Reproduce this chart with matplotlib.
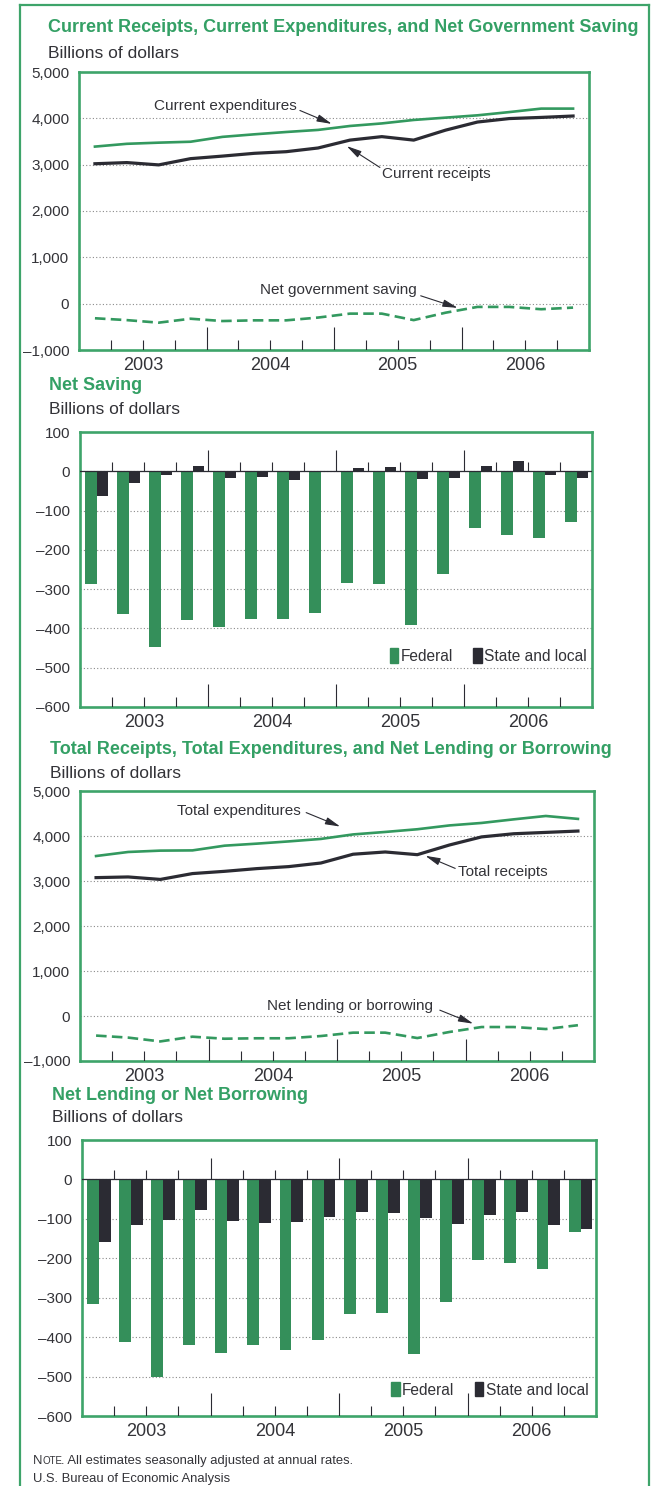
import matplotlib
matplotlib.use("Agg")
import matplotlib.pyplot as plt
from matplotlib.lines import Line2D
from matplotlib.patches import Patch
import numpy as np

# ---------------- data ----------------
years = ["2003", "2004", "2005", "2006"]
n_quarters = 16

current_expenditures = [3390, 3450, 3475, 3495, 3600, 3655, 3705, 3750,
                        3835, 3890, 3965, 4015, 4065, 4135, 4210, 4210]
current_receipts = [3020, 3045, 2995, 3130, 3185, 3245, 3280, 3360,
                    3530, 3605, 3530, 3745, 3920, 3995, 4020, 4050]
net_government_saving = [-315, -355, -410, -325, -375, -360, -360, -300,
                         -215, -215, -355, -195, -70, -70, -120, -85]

federal_saving = [-287, -363, -448, -378, -397, -377, -377, -361,
                  -284, -287, -392, -261, -145, -161, -171, -129]
state_local_saving = [-64, -30, -10, 13, -17, -14, -23, -3,
                      9, 11, -19, -17, 13, 26, -10, -17]

total_expenditures = [3555, 3645, 3675, 3680, 3785, 3830, 3880, 3935,
                      4035, 4090, 4150, 4235, 4290, 4370, 4445, 4380]
total_receipts = [3075, 3090, 3035, 3165, 3215, 3275, 3320, 3400,
                  3595, 3645, 3585, 3800, 3980, 4050, 4080, 4110]
net_lending = [-435, -480, -565, -460, -505, -495, -495, -445,
               -370, -370, -490, -355, -245, -245, -290, -205]

federal_lending = [-316, -413, -502, -420, -440, -419, -432, -408,
                   -341, -338, -442, -312, -205, -213, -228, -133]
state_local_lending = [-159, -116, -103, -78, -106, -111, -109, -95,
                       -82, -84, -99, -114, -89, -82, -116, -126]

line_yticks = [-1000, 0, 1000, 2000, 3000, 4000, 5000]
bar_yticks = [-600, -500, -400, -300, -200, -100, 0, 100]

# ---------------- style ----------------
FONT = ["Liberation Sans Narrow", "Liberation Sans", "DejaVu Sans"]
plt.rcParams["font.family"] = FONT
GREEN = "#33995f"
TITLE_GREEN = "#34a065"
BAR_GREEN = "#348f5a"
DARK = "#2b2b33"
TEXT = "#333338"
SPINE = "#3ea46a"

W, H = 653, 1486
fig = plt.figure(figsize=(W / 100, H / 100), dpi=100)
fig.patch.set_facecolor("white")


def rect(l, t, r, b):
    return [l / W, 1 - b / H, (r - l) / W, (b - t) / H]


def fy(py):
    return 1 - py / H


def fx(px):
    return px / W


# outer frame
for xs, ys in [((20, 20), (5, H)), ((20, 649), (5, 5)), ((649, 649), (5, H))]:
    fig.add_artist(Line2D([fx(xs[0]), fx(xs[1])], [fy(ys[0]), fy(ys[1])],
                          color=SPINE, lw=1.6))

x_centers = np.arange(n_quarters) + 0.5


def fmt(v):
    s = f"{abs(v):,}"
    return ("\u2013" + s) if v < 0 else s


def base_axes(r, yticks, ylim):
    ax = fig.add_axes(r)
    ax.set_xlim(0, n_quarters)
    ax.set_ylim(*ylim)
    for s in ax.spines.values():
        s.set_color(SPINE)
        s.set_linewidth(1.9)
    ax.set_yticks(yticks)
    ax.set_yticklabels([fmt(v) for v in yticks], fontsize=11, color=TEXT)
    ax.tick_params(axis="y", length=0, pad=7)
    ax.set_xticks([2, 6, 10, 14])
    ax.set_xticklabels(years, fontsize=13, color=TEXT)
    ax.tick_params(axis="x", length=0, pad=5)
    for v in yticks:
        if v not in (ylim[0], ylim[1]):
            ax.axhline(v, color="#8a8a8a", lw=0.8, ls=(0, (1, 2)), zorder=0)
    # quarter tick marks at bottom
    for i in range(1, n_quarters):
        h = 0.083 if i % 4 == 0 else 0.036
        ax.vlines(i, 0, h, transform=ax.get_xaxis_transform(),
                  color=DARK, lw=0.8, zorder=3)
    return ax


def titles(title, x, ty, by):
    fig.text(fx(x), fy(ty), title, fontsize=13, fontweight="bold",
             color=TITLE_GREEN, va="center", ha="left")
    fig.text(fx(x), fy(by), "Billions of dollars", fontsize=12.5,
             color=TEXT, va="center", ha="left")


def arrow(ax, tail, tip):
    ax.annotate("", xy=tip, xytext=tail,
                arrowprops=dict(arrowstyle="-|>,head_length=0.9,head_width=0.22",
                                color=DARK, lw=0.8, shrinkA=0, shrinkB=0),
                zorder=6)


ANN = 11

# ---------------- panel 1 ----------------
titles("Current Receipts, Current Expenditures, and Net Government Saving",
       48, 28, 53)
ax1 = base_axes(rect(79, 72, 589, 350), line_yticks, (-1000, 5000))
ax1.plot(x_centers, current_expenditures, color=GREEN, lw=1.9, zorder=4)
ax1.plot(x_centers, current_receipts, color=DARK, lw=2.3, zorder=4)
ax1.plot(x_centers, net_government_saving, color=GREEN, lw=1.9,
         ls=(0, (4, 2)), zorder=4)
ax1.text(6.83, 4260, "Current expenditures", ha="right", va="center",
         fontsize=ANN, color=TEXT)
arrow(ax1, (6.93, 4170), (7.93, 3880))
ax1.text(9.5, 2790, "Current receipts", ha="left", va="center",
         fontsize=ANN, color=TEXT)
arrow(ax1, (9.44, 2940), (8.4, 3400))
ax1.text(10.6, 300, "Net government saving", ha="right", va="center",
         fontsize=ANN, color=TEXT)
arrow(ax1, (10.72, 170), (11.88, -90))

# ---------------- panel 2 ----------------
titles("Net Saving", 49, 385, 409)
ax2 = base_axes(rect(80, 432, 592, 707), bar_yticks, (-600, 100))
ax2.bar(np.arange(n_quarters) + 0.15, federal_saving, width=0.37,
        align="edge", color=BAR_GREEN, zorder=2, label="Federal")
ax2.bar(np.arange(n_quarters) + 0.52, state_local_saving, width=0.37,
        align="edge", color=DARK, zorder=2, label="State and local")
ax2.axhline(0, color=DARK, lw=0.9, zorder=3)
for i in range(1, n_quarters):
    ax2.vlines(i, 0, 55 if i % 4 == 0 else 24, color=DARK, lw=0.8, zorder=3)
h2 = [Patch(color=BAR_GREEN), Patch(color=DARK)]
leg_kw = dict(loc="center right", ncol=2, frameon=False, fontsize=11.2,
              handlelength=0.55, handleheight=1.05, handletextpad=0.15,
              columnspacing=1.3, borderpad=0, labelcolor=TEXT)
ax2.legend(h2, ["Federal", "State and local"],
           bbox_to_anchor=(0.99, 0.186), borderaxespad=0.0, **leg_kw)

# ---------------- panel 3 ----------------
titles("Total Receipts, Total Expenditures, and Net Lending or Borrowing",
       50, 750, 773)
ax3 = base_axes(rect(80, 791, 594, 1061), line_yticks, (-1000, 5000))
ax3.plot(x_centers, total_expenditures, color=GREEN, lw=1.9, zorder=4)
ax3.plot(x_centers, total_receipts, color=DARK, lw=2.3, zorder=4)
ax3.plot(x_centers, net_lending, color=GREEN, lw=1.9,
         ls=(0, (4, 2)), zorder=4)
ax3.text(6.88, 4555, "Total expenditures", ha="right", va="center",
         fontsize=ANN, color=TEXT)
arrow(ax3, (7.04, 4520), (8.1, 4210))
ax3.text(11.78, 3200, "Total receipts", ha="left", va="center",
         fontsize=ANN, color=TEXT)
arrow(ax3, (11.68, 3280), (10.75, 3560))
ax3.text(11.0, 222, "Net lending or borrowing", ha="right", va="center",
         fontsize=ANN, color=TEXT)
arrow(ax3, (11.2, 130), (12.24, -170))

# ---------------- panel 4 ----------------
titles("Net Lending or Net Borrowing", 52, 1095, 1117)
ax4 = base_axes(rect(82, 1140, 596, 1416), bar_yticks, (-600, 100))
ax4.bar(np.arange(n_quarters) + 0.15, federal_lending, width=0.37,
        align="edge", color=BAR_GREEN, zorder=2)
ax4.bar(np.arange(n_quarters) + 0.52, state_local_lending, width=0.37,
        align="edge", color=DARK, zorder=2)
ax4.axhline(0, color=DARK, lw=0.9, zorder=3)
for i in range(1, n_quarters):
    ax4.vlines(i, 0, 55 if i % 4 == 0 else 24, color=DARK, lw=0.8, zorder=3)
ax4.legend(h2, ["Federal", "State and local"],
           bbox_to_anchor=(0.985, 0.095), borderaxespad=0.0, **leg_kw)

# ---------------- note ----------------
NOTE_FS = 9.4
renderer = fig.canvas.get_renderer()
t1 = fig.text(fx(33), fy(1464), "N", fontsize=NOTE_FS, color=TEXT,
              va="baseline", ha="left")
w1 = t1.get_window_extent(renderer).width
t2 = fig.text(fx(33 + w1), fy(1464), "OTE", fontsize=NOTE_FS * 0.75,
              color=TEXT, va="baseline", ha="left")
w2 = t2.get_window_extent(renderer).width
fig.text(fx(33 + w1 + w2 - 1.0), fy(1464),
         ". All estimates seasonally adjusted at annual rates.",
         fontsize=NOTE_FS, color=TEXT, va="baseline", ha="left")
fig.text(fx(33), fy(1482), "U.S. Bureau of Economic Analysis",
         fontsize=NOTE_FS, color=TEXT, va="baseline", ha="left")

fig.savefig("out.png", dpi=100, facecolor="white")
